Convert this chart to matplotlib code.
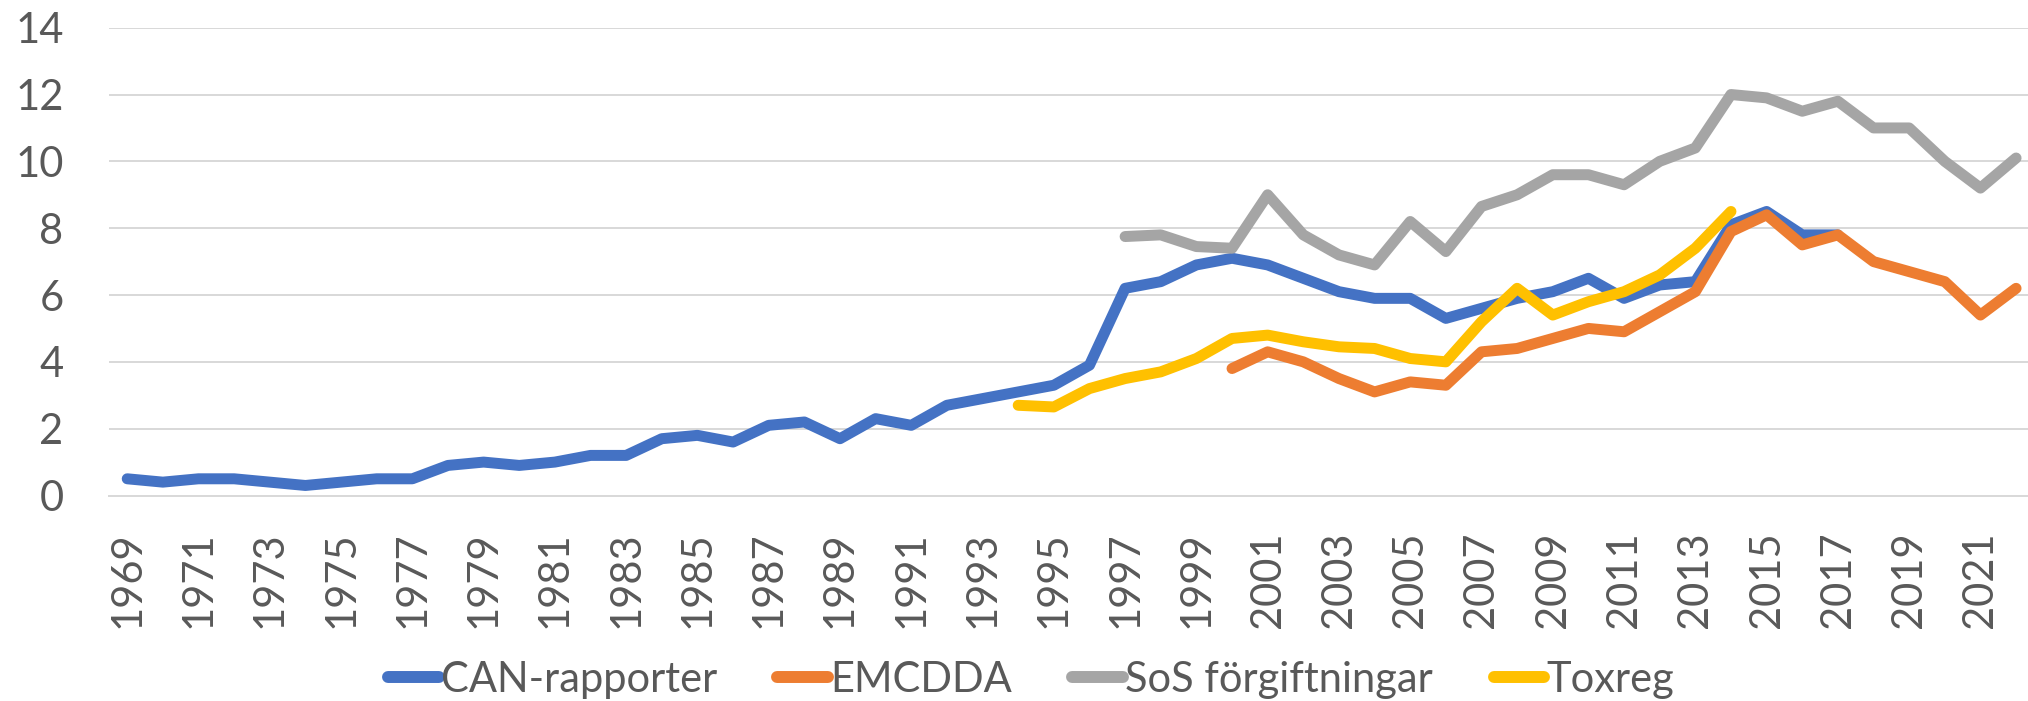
import numpy as np
import matplotlib
matplotlib.use("Agg")
import matplotlib.pyplot as plt

years = list(range(1969, 2023))

can_years = list(range(1969, 2018))
can_vals = [0.5, 0.4, 0.5, 0.5, 0.4, 0.3, 0.4, 0.5, 0.5, 0.9,
            1.0, 0.9, 1.0, 1.2, 1.2, 1.7, 1.8, 1.6, 2.1, 2.2,
            1.7, 2.3, 2.1, 2.7, 2.9, 3.1, 3.3, 3.9, 6.2, 6.4,
            6.9, 7.1, 6.9, 6.5, 6.1, 5.9, 5.9, 5.3, 5.6, 5.9,
            6.1, 6.5, 5.9, 6.3, 6.4, 8.1, 8.5, 7.8, 7.8]

emc_years = list(range(2000, 2023))
emc_vals = [3.8, 4.3, 4.0, 3.5, 3.1, 3.4, 3.3, 4.3, 4.4, 4.7,
            5.0, 4.9, 5.5, 6.1, 7.9, 8.4, 7.5, 7.8, 7.0, 6.7,
            6.4, 5.4, 6.2]

sos_years = list(range(1997, 2023))
sos_vals = [7.75, 7.8, 7.45, 7.4, 9.0, 7.8, 7.2, 6.9, 8.2, 7.3,
            8.65, 9.0, 9.6, 9.6, 9.3, 10.0, 10.4, 12.0, 11.9, 11.5,
            11.8, 11.0, 11.0, 10.0, 9.2, 10.1]

tox_years = list(range(1994, 2015))
tox_vals = [2.7, 2.65, 3.2, 3.5, 3.7, 4.1, 4.7, 4.8, 4.6, 4.45,
            4.4, 4.1, 4.0, 5.2, 6.2, 5.4, 5.8, 6.1, 6.6, 7.4, 8.5]

series_names = ["CAN-rapporter", "EMCDDA", "SoS förgiftningar", "Toxreg"]
colors = ["#4472C4", "#ED7D31", "#A5A5A5", "#FFC000"]
yticks = [0, 2, 4, 6, 8, 10, 12, 14]
xtick_labels = [str(y) for y in years[::2]]

plt.rcParams['font.family'] = ['Lato', 'DejaVu Sans']
text_color = "#595959"
fs = 30

fig = plt.figure(figsize=(20.28, 7.01), dpi=100)
W, H = 2028, 701
ax = fig.add_axes([109.4 / W, 1 - 495.5 / H, 1924.5 / W, 467.8 / H])

idx = {y: i for i, y in enumerate(years)}
data = [(can_years, can_vals), (emc_years, emc_vals),
        (sos_years, sos_vals), (tox_years, tox_vals)]
for k in range(4):
    ys, vs = data[k]
    xs = [idx[y] for y in ys]
    ax.plot(xs, vs, color=colors[k], lw=7.9, solid_capstyle='round',
            solid_joinstyle='round', label=series_names[k], zorder=3 + k)

ax.set_xlim(-0.5, len(years) - 0.5)
ax.set_ylim(0, 14)
ax.set_yticks(yticks)
ax.set_yticklabels([str(v) for v in yticks])
ax.set_xticks([idx[y] for y in years[::2]])
ax.set_xticklabels(xtick_labels, rotation=90)

ax.grid(axis='y', color="#D9D9D9", lw=1.44, zorder=0)
ax.set_axisbelow(True)
for s in ['top', 'right', 'left']:
    ax.spines[s].set_visible(False)
ax.spines['bottom'].set_color("#D9D9D9")
ax.spines['bottom'].set_linewidth(1.44)
ax.tick_params(axis='both', length=0, labelsize=fs, colors=text_color)
ax.tick_params(axis='y', pad=33)
ax.tick_params(axis='x', pad=26)

leg = fig.legend(loc='center', bbox_to_anchor=(1031 / W, 1 - 680 / H),
                 ncol=4, frameon=False, fontsize=fs, handlelength=1.22,
                 handletextpad=0.05, columnspacing=1.45, borderpad=0)
for t in leg.get_texts():
    t.set_color(text_color)
for l in leg.get_lines():
    l.set_linewidth(8.6)
    l.set_solid_capstyle('round')

fig.savefig("out.png", dpi=100, facecolor='white')
